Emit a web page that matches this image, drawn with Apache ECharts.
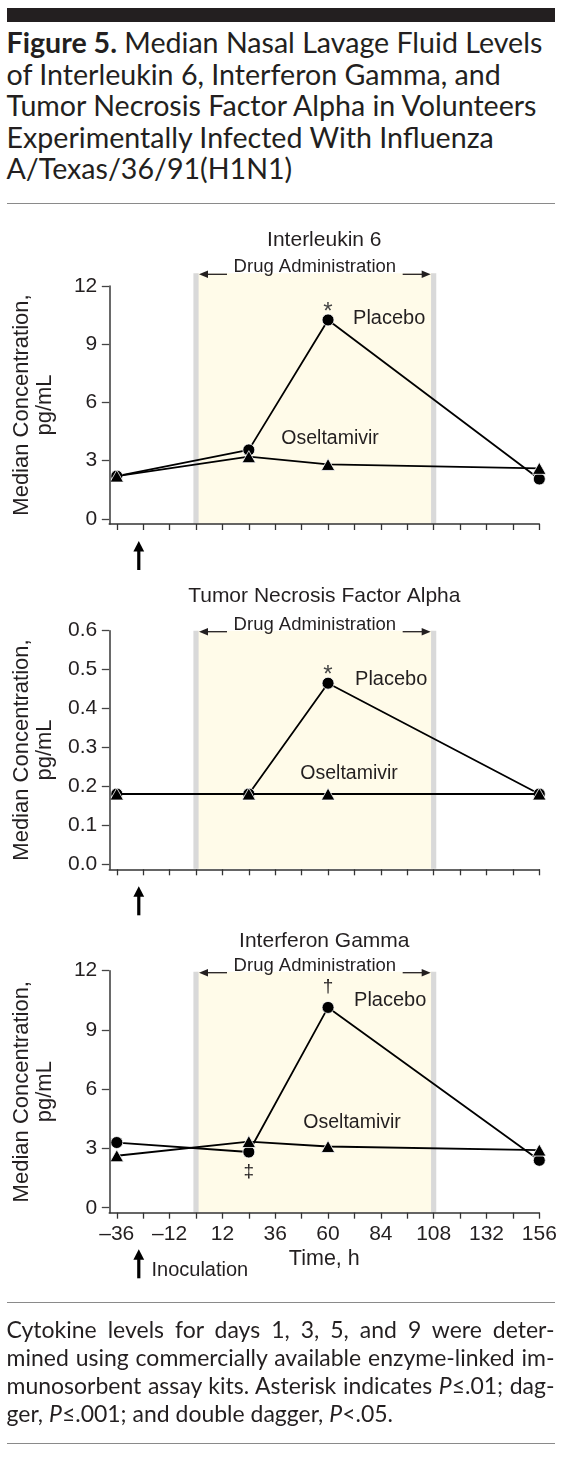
<!DOCTYPE html>
<html><head><meta charset="utf-8">
<script src="https://cdn.jsdelivr.net/npm/echarts@6/dist/echarts.min.js"></script>
<style>
html,body{margin:0;padding:0;background:#fff;}
body{width:567px;height:1466px;position:relative;overflow:hidden;color:#231f20;}
#chart{position:absolute;left:0;top:0;width:567px;height:1466px;}
.bar{position:absolute;left:6.5px;top:8.3px;width:548px;height:13.4px;background:#231f20;}
.rule{position:absolute;left:6.5px;width:548px;height:1.3px;background:#8a8a8a;}
.hl{position:absolute;left:6.5px;white-space:nowrap;font-family:'Lato','Open Sans',sans-serif;}
.cl{position:absolute;left:6.5px;width:548px;white-space:nowrap;font-family:'Lato','Open Sans',sans-serif;text-align:justify;text-align-last:justify;}
.cl.last{text-align:left;text-align-last:left;}
</style></head>
<body>
<div class="bar"></div>
<div class="hl h"><b>Figure 5.</b> Median Nasal Lavage Fluid Levels</div>
<div class="hl h">of Interleukin 6, Interferon Gamma, and</div>
<div class="hl h">Tumor Necrosis Factor Alpha in Volunteers</div>
<div class="hl h">Experimentally Infected With Influenza</div>
<div class="hl h">A/Texas/36/91(H1N1)</div>
<div class="rule" style="top:202.7px"></div>
<div id="chart"></div>
<div class="rule" style="top:1302px"></div>
<div class="cl c">Cytokine levels for days 1, 3, 5, and 9 were deter-</div>
<div class="cl c">mined using commercially available enzyme-linked im-</div>
<div class="cl c">munosorbent assay kits. Asterisk indicates <i>P</i>≤.01; dag-</div>
<div class="cl c last">ger, <i>P</i>≤.001; and double dagger, <i>P</i>&lt;.05.</div>
<div class="rule" style="top:1442.7px"></div>
<script>
// ---------------- data ----------------
const times = [-36, 24, 60, 156];
const il6Placebo = [2.2, 3.55, 10.25, 2.05];
const il6Oseltamivir = [2.2, 3.2, 2.8, 2.6];
const tnfPlacebo = [0.18, 0.18, 0.465, 0.18];
const tnfOseltamivir = [0.18, 0.18, 0.18, 0.18];
const ifnPlacebo = [3.3, 2.82, 10.14, 2.4];
const ifnOseltamivir = [2.63, 3.35, 3.1, 2.92];
const xTickValues = [-36, -24, -12, 0, 12, 24, 36, 48, 60, 72, 84, 96, 108, 120, 132, 144, 156];
const xLabelValues = [-36, -12, 12, 36, 60, 84, 108, 132, 156];
const il6Ticks = [0, 3, 6, 9, 12];
const tnfTicks = [0, 0.1, 0.2, 0.3, 0.4, 0.5, 0.6];
const ifnTicks = [0, 3, 6, 9, 12];
const panelTitles = ['Interleukin 6', 'Tumor Necrosis Factor Alpha', 'Interferon Gamma'];
const drugWindow = [0, 108];
const inoculationTime = -26;
const il6Signif = [null, null, '*', null];
const tnfSignif = [null, null, '*', null];
const ifnSignif = [null, '‡', '†', null];

// ---------------- html text fitting ----------------
function baselineOf(el){
  const m = document.createElement('span');
  m.style.cssText = 'display:inline-block;width:0;height:0;vertical-align:baseline;';
  el.appendChild(m);
  const b = m.getBoundingClientRect().top - el.getBoundingClientRect().top;
  m.remove();
  return b;
}
(function(){
  const hs = document.querySelectorAll('.h');
  hs.forEach(e => e.style.fontSize = '24px');
  const w0 = hs[0].getBoundingClientRect().width;
  const hsz = 24 * 536 / w0;
  const hb = [53.3, 84.7, 116.1, 147.5, 178.9];
  hs.forEach((e, i) => { e.style.fontSize = hsz + 'px'; e.style.top = '0px'; const b = baselineOf(e); e.style.top = (hb[i] - b) + 'px'; });
  const cs = document.querySelectorAll('.c');
  let csz = 20;
  let maxw = 0;
  cs.forEach(e => { const s = document.createElement('span'); s.innerHTML = e.innerHTML; s.style.cssText = 'position:absolute;visibility:hidden;white-space:nowrap;font-family:Lato;font-size:' + csz + 'px'; document.body.appendChild(s); maxw = Math.max(maxw, s.getBoundingClientRect().width); s.remove(); });
  csz = csz * 544 / maxw;
  const cb = [1338.3, 1366.1, 1393.9, 1421.7];
  cs.forEach((e, i) => { e.style.fontSize = csz + 'px'; e.style.top = '0px'; const b = baselineOf(e); e.style.top = (cb[i] - b) + 'px'; });
})();

// ---------------- chart ----------------
const FONT = 'Liberation Sans';
const INK = '#231f20';
const panels = [
  {title: panelTitles[0], placebo: il6Placebo, osel: il6Oseltamivir, signif: il6Signif, ticks: il6Ticks, dec: 0,
   yMin: -0.27, yMax: 12, top: 286, height: 238, titleY: 240.7, bandExtra: 12.7,
   placeboOff: [25, -1], oselOff: [2, -26], arrowTip: 17, showX: false},
  {title: panelTitles[1], placebo: tnfPlacebo, osel: tnfOseltamivir, signif: tnfSignif, ticks: tnfTicks, dec: 1,
   yMin: -0.0136, yMax: 0.6, top: 630.7, height: 238.6, titleY: 596, bandExtra: 0,
   placeboOff: [27, -4], oselOff: [21, -20], arrowTip: 17, showX: false},
  {title: panelTitles[2], placebo: ifnPlacebo, osel: ifnOseltamivir, signif: ifnSignif, ticks: ifnTicks, dec: 0,
   yMin: -0.253, yMax: 12, top: 970.7, height: 242, titleY: 941.7, bandExtra: -1,
   placeboOff: [26, -7], oselOff: [24, -24], arrowTip: 36.6, showX: true}
];
const peakIdx = 2;

function fmtX(v){ return v < 0 ? '\u2013' + Math.abs(v) : String(v); }

const grid = [], xAxis = [], yAxis = [], series = [], graphic = [];
panels.forEach((p, i) => {
  grid.push({left: 109.3, width: 430, top: p.top, height: p.height});
  xAxis.push({
    type: 'value', gridIndex: i, min: -39.4, max: 156, z: 5,
    axisLine: {show: true, onZero: false, lineStyle: {color: '#333', width: 1.6}},
    axisTick: {show: true, customValues: xTickValues, length: 6, lineStyle: {color: '#333', width: 1.3}},
    axisLabel: {show: p.showX, customValues: xLabelValues, formatter: fmtX, fontFamily: FONT, fontSize: 21, color: INK, margin: 11},
    splitLine: {show: false},
    name: p.showX ? 'Time, h' : '', nameLocation: 'middle', nameGap: 35,
    nameTextStyle: {fontFamily: FONT, fontSize: 21.5, color: INK}
  });
  yAxis.push({
    type: 'value', gridIndex: i, min: p.yMin, max: p.yMax, z: 5,
    axisLine: {show: true, onZero: false, lineStyle: {color: '#444', width: 1.6}},
    axisTick: {show: true, customValues: p.ticks, length: 7.5, lineStyle: {color: '#444', width: 1.3}},
    axisLabel: {customValues: p.ticks, formatter: v => v.toFixed(p.dec), fontFamily: FONT, fontSize: 21, color: INK, margin: 12},
    splitLine: {show: false},
    name: 'Median Concentration,\npg/mL', nameLocation: 'middle', nameRotate: 90, nameGap: 52.7,
    nameTextStyle: {fontFamily: FONT, fontSize: 22, lineHeight: 23.3, color: INK}
  });
  series.push({
    type: 'custom', xAxisIndex: i, yAxisIndex: i, clip: false, silent: true, z: 1,
    data: [[drugWindow[0], drugWindow[1], p.yMin]], encode: {x: [0, 1], y: 2},
    renderItem: (params, api) => {
      const a = api.coord([api.value(0), p.yMin]);
      const b = api.coord([api.value(1), p.yMin]);
      const yTop = api.coord([api.value(0), p.yMax])[1] - p.bandExtra;
      const yBot = a[1] - 0.5;
      const x0 = a[0], x1 = b[0], mid = (x0 + x1) / 2, ay = yTop + 1;
      return {type: 'group', children: [
        {type: 'rect', shape: {x: x0, y: yTop, width: x1 - x0, height: yBot - yTop}, style: {fill: '#fffbe9'}},
        {type: 'rect', shape: {x: x0 - 2.6, y: yTop, width: 5.2, height: yBot - yTop}, style: {fill: '#d9d9d9'}},
        {type: 'rect', shape: {x: x1 - 2.6, y: yTop, width: 5.2, height: yBot - yTop}, style: {fill: '#d9d9d9'}},
        {type: 'line', shape: {x1: x0 + 8, y1: ay, x2: x0 + 31, y2: ay}, style: {stroke: INK, lineWidth: 1.3}},
        {type: 'polygon', shape: {points: [[x0 + 3, ay], [x0 + 12, ay - 3.8], [x0 + 12, ay + 3.8]]}, style: {fill: INK}},
        {type: 'line', shape: {x1: x1 - 31, y1: ay, x2: x1 - 8, y2: ay}, style: {stroke: INK, lineWidth: 1.3}},
        {type: 'polygon', shape: {points: [[x1 - 3, ay], [x1 - 12, ay - 3.8], [x1 - 12, ay + 3.8]]}, style: {fill: INK}},
        {type: 'text', x: mid, y: yTop - 6, style: {text: 'Drug Administration', align: 'center', verticalAlign: 'middle', fontFamily: FONT, fontSize: 18.5, fill: INK}}
      ]};
    }
  });
  series.push({
    type: 'custom', xAxisIndex: i, yAxisIndex: i, clip: false, silent: true, z: 1,
    data: [[inoculationTime, p.yMin]], encode: {x: 0, y: 1},
    renderItem: (params, api) => {
      const c = api.coord([api.value(0), api.value(1)]);
      const x = c[0], tip = c[1] + p.arrowTip, len = 29;
      const ch = [
        {type: 'polygon', shape: {points: [[x - 5.4, tip + 10.5], [x, tip], [x + 5.4, tip + 10.5]]}, style: {fill: '#000'}},
        {type: 'rect', shape: {x: x - 1.6, y: tip + 9, width: 3.2, height: len - 9}, style: {fill: '#000'}}
      ];
      if (p.showX) ch.push({type: 'text', x: x + 12.7, y: tip + 21, style: {text: 'Inoculation', align: 'left', verticalAlign: 'middle', fontFamily: FONT, fontSize: 20, fill: INK}});
      return {type: 'group', children: ch};
    }
  });
  const markData = [];
  p.signif.forEach((s, k) => {
    if (!s) return;
    const below = s === '‡';
    const off = s === '*' ? [0, -7.5] : (below ? [0, 20] : [0, -21]);
    markData.push({coord: [times[k], p.placebo[k]], symbol: 'circle', symbolSize: 1, itemStyle: {color: 'rgba(0,0,0,0)'},
      label: {show: true, position: 'inside', formatter: s, offset: off, fontFamily: FONT, fontSize: s === '*' ? 24 : 19, color: s === '*' ? '#444' : INK}});
  });
  series.push({
    name: 'Placebo', type: 'line', xAxisIndex: i, yAxisIndex: i, z: 3,
    data: times.map((t, k) => k === peakIdx ? {value: [t, p.placebo[k]], label: {show: true, position: 'inside', align: 'left', formatter: 'Placebo', offset: p.placeboOff, fontFamily: FONT, fontSize: 20, color: INK}} : [t, p.placebo[k]]),
    symbol: 'circle', symbolSize: 12, showAllSymbol: true,
    lineStyle: {color: '#000', width: 1.8}, itemStyle: {color: '#000', borderColor: '#fff', borderWidth: 0.8},
    markPoint: {silent: true, data: markData, animation: false}
  });
  series.push({
    name: 'Oseltamivir', type: 'line', xAxisIndex: i, yAxisIndex: i, z: 4,
    data: times.map((t, k) => k === peakIdx ? {value: [t, p.osel[k]], label: {show: true, position: 'inside', formatter: 'Oseltamivir', offset: p.oselOff, fontFamily: FONT, fontSize: 19.5, color: INK}} : [t, p.osel[k]]),
    symbol: 'triangle', symbolSize: [13.5, 12], showAllSymbol: true,
    lineStyle: {color: '#000', width: 1.8}, itemStyle: {color: '#000', borderColor: '#fff', borderWidth: 0.8}
  });
  graphic.push({type: 'text', x: 324.3, y: p.titleY, style: {text: p.title, align: 'center', verticalAlign: 'middle', fontFamily: FONT, fontSize: 21, fill: INK}});
});

const chart = echarts.init(document.getElementById('chart'), null, {renderer: 'canvas'});
chart.setOption({animation: false, backgroundColor: 'transparent', grid, xAxis, yAxis, series, graphic});
</script>
</body></html>
